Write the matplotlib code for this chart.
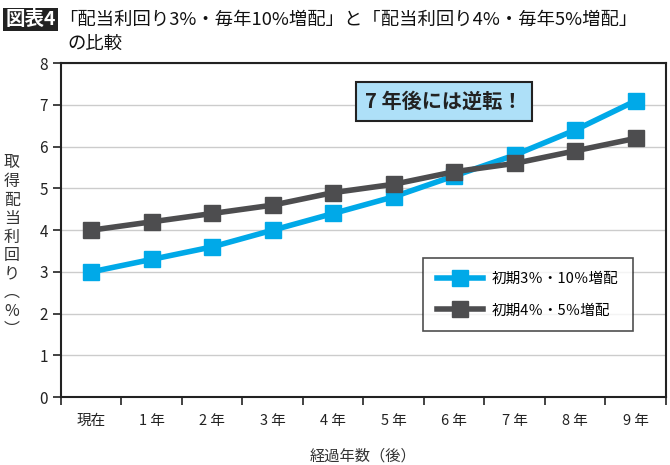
import matplotlib
matplotlib.use("Agg")
import matplotlib.pyplot as plt
from matplotlib.ticker import FixedLocator

plt.rcParams['font.family'] = ['Noto Sans CJK JP', 'DejaVu Sans']

# data
years = ["現在", "1 年", "2 年", "3 年", "4 年", "5 年", "6 年", "7 年", "8 年", "9 年"]
yield_3pct = [3.0, 3.3, 3.6, 4.0, 4.4, 4.8, 5.3, 5.8, 6.4, 7.1]
yield_4pct = [4.0, 4.2, 4.4, 4.6, 4.9, 5.1, 5.4, 5.6, 5.9, 6.2]
labels = ["初期3％・10％増配", "初期4％・5％増配"]

blue = "#00a9e8"
gray = "#4d4d4f"

fig = plt.figure(figsize=(6.7, 4.65), dpi=100)
ax = fig.add_axes([0.091, 0.146, 0.903, 0.718])

x = range(len(years))
ax.plot(x, yield_3pct, color=blue, lw=4, marker="s", ms=11, label=labels[0], zorder=3)
ax.plot(x, yield_4pct, color=gray, lw=4, marker="s", ms=11, label=labels[1], zorder=3)

ax.set_xlim(-0.5, len(years) - 0.5)
ax.set_ylim(0, 8)
ax.set_yticks(range(0, 9))
ax.tick_params(axis="y", labelsize=11, length=6, width=1.2, colors="#222222")
ax.set_xticks(list(x))
ax.set_xticklabels(years, fontsize=10.5)
ax.tick_params(axis="x", which="major", length=0, pad=12, colors="#222222")
ax.xaxis.set_minor_locator(FixedLocator([i - 0.5 for i in range(len(years) + 1)]))
ax.tick_params(axis="x", which="minor", length=6, width=1.2, color="#222222")

ax.grid(axis="y", color="#cccccc", lw=1)
ax.set_axisbelow(True)
for s in ax.spines.values():
    s.set_color("#222222")
    s.set_linewidth(1.5)

ax.set_xlabel("経過年数（後）", fontsize=11, labelpad=14, color="#333333")

# vertical y label
fig.text(0.018, 0.47, "取\n得\n配\n当\n利\n回\nり\n︵\n%\n︶", fontsize=11.5,
         ha="center", va="center", linespacing=1.12, color="#333333")

leg = ax.legend(loc="upper left", bbox_to_anchor=(0.598, 0.416), fontsize=10.5,
                frameon=True, fancybox=False, edgecolor="#222222",
                handlelength=3.2, handletextpad=0.6, borderpad=0.95,
                labelspacing=1.2, borderaxespad=0)
leg.get_frame().set_linewidth(1.2)

ax.text(0.633, 0.886, "7 年後には逆転！", transform=ax.transAxes, fontsize=14.5,
        fontweight="bold", ha="center", va="center", color="#222222",
        bbox=dict(boxstyle="square,pad=0.45", fc="#aee0f8", ec="#222222", lw=1.5))

# title
fig.text(0.008, 0.958, "図表4", fontsize=14, fontweight="bold", color="white",
         va="center", bbox=dict(boxstyle="square,pad=0.12", fc="#222222", ec="none"))
fig.text(0.088, 0.958, "「配当利回り3%・毎年10%増配」と「配当利回り4%・毎年5%増配」",
         fontsize=13.2, va="center", color="#111111")
fig.text(0.1, 0.905, "の比較", fontsize=13.2, va="center", color="#111111")

fig.savefig("out.png", dpi=100)
